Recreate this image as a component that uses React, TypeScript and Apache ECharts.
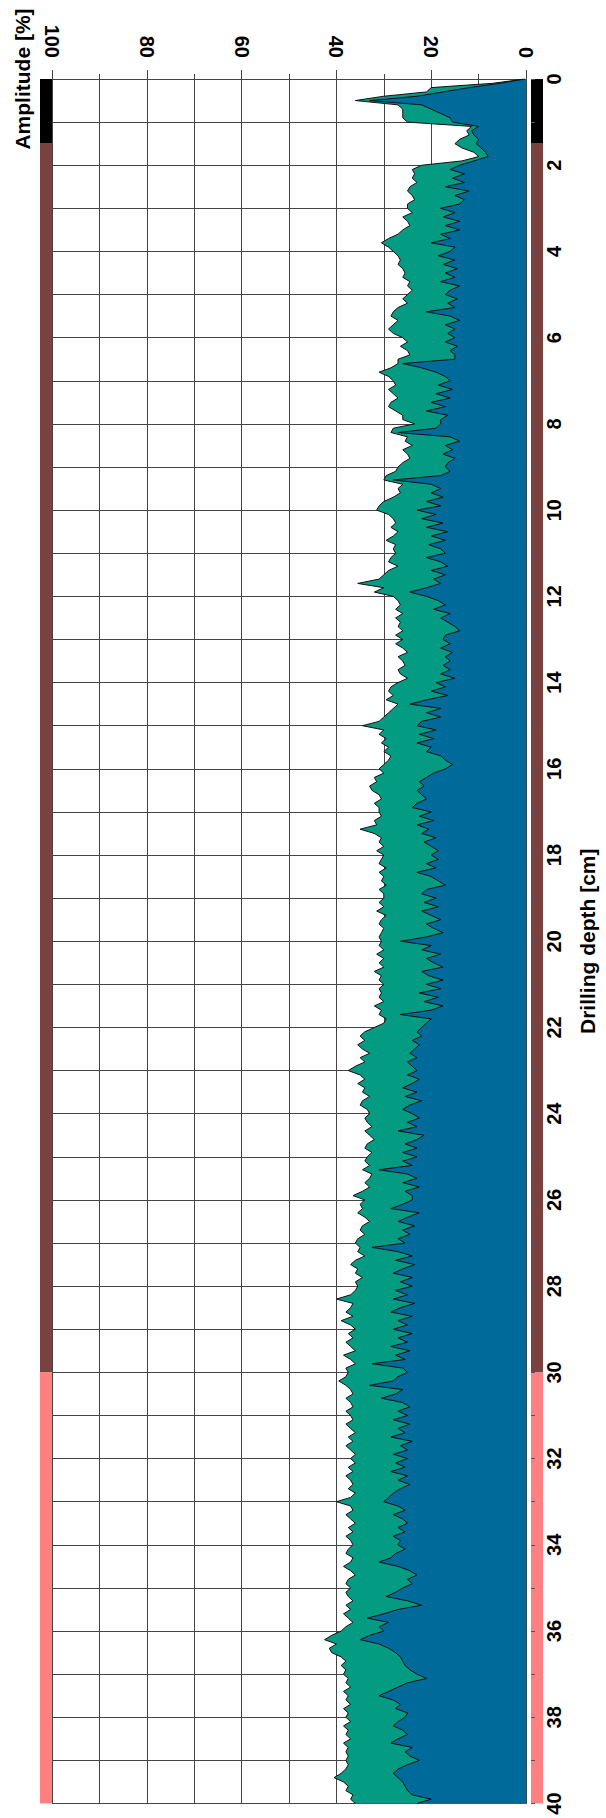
import React, { useEffect, useRef } from 'react';
import * as echarts from 'echarts';

// Depth samples (cm) every 0.1 cm from 0 to 40
const depthLabels: string[] = Array.from({ length: 401 }, (_, i) => (i / 10).toFixed(1));

// Outer curve (green area), amplitude in %
const outerAmplitude: number[] = [
  0.3, 7, 20, 21, 30, 36, 27, 26, 26, 26,
  25, 11.5, 12.5, 12, 14, 15, 13.5, 11, 10, 13.5,
  22, 24, 23.5, 24, 23, 24.5, 25, 24, 23.5, 25,
  25, 24, 26, 25, 24.5, 26, 27, 29, 30.5, 29,
  28, 27, 26.5, 27, 26, 25.5, 26, 24.5, 25, 24,
  25, 26, 25, 27, 28, 28.5, 27, 28, 29, 28,
  26, 25, 26.5, 25, 24.5, 27, 27, 28.5, 31, 29,
  28, 27.5, 29, 28, 27, 28.5, 29, 27.5, 26, 26,
  23.5, 28, 28.5, 25, 25.5, 24, 26, 25, 24.5, 26,
  27, 27.5, 29.5, 30, 26, 27, 26.5, 28, 30, 31,
  31.5, 29, 28, 27.5, 28.5, 27, 28, 29.5, 27.5, 28,
  27.5, 28.5, 29, 27, 29, 30, 31, 35.5, 30, 32,
  28, 27, 26.5, 27.5, 26, 27.5, 26.5, 27, 26, 27.5,
  26, 27.5, 26, 25, 27, 26, 25.5, 27, 26.5, 25,
  27, 28.5, 29, 28, 29.5, 27, 28, 29, 30, 31,
  34.5, 30, 31, 29.5, 30.5, 29, 30, 28.5, 29, 30,
  31, 30, 32, 31.5, 33, 32.5, 31, 30.5, 32, 31,
  31, 30.5, 32, 31.5, 35, 32, 30.5, 31, 30, 31.5,
  30, 30.5, 31, 29.5, 31, 30, 30.5, 29.5, 31, 30,
  30, 31, 30, 31.5, 29.5, 30.5, 31, 30, 30.5, 31,
  30.5, 31, 30, 31.5, 30, 31, 30, 32, 30.5, 31,
  30, 31, 30.5, 31, 30, 32, 30.5, 31, 29.5, 30,
  32, 34, 35, 34, 35.5, 34.5, 33, 35, 34, 36,
  37.5, 35, 34, 35.5, 34, 34.5, 33, 34.5, 35, 33.5,
  33, 34, 33.5, 32.5, 34, 33, 32, 33.5, 34, 32.5,
  33.5, 34, 33, 34.5, 32.5, 33, 34, 33, 34.5, 36.5,
  34, 35, 34.5, 35.5, 34, 33, 34.5, 35, 34, 35.5,
  36, 35, 35.5, 34, 36, 37, 35.5, 36, 34.5, 36,
  35.5, 36, 37, 40, 36.5, 37, 38, 36.5, 39, 37,
  36, 37.5, 36.5, 38, 37, 36, 38.5, 37, 36, 38,
  37.5, 38, 39.5, 38, 37, 36.5, 38, 37, 36.5, 38,
  37, 36.5, 38, 37, 36, 37.5, 36.5, 38, 37, 36,
  37, 36, 37.5, 36.5, 38, 37, 36.5, 37.5, 36, 37,
  40, 37, 36.5, 38, 37, 36, 37.5, 36.5, 38, 37,
  36.5, 37.5, 38, 36.5, 37, 38.5, 37, 36, 37.5, 38,
  37, 38, 37.5, 36.5, 38, 37, 38.5, 37.5, 36.5, 38,
  39, 41, 42.5, 40, 41.5, 41, 39, 38, 39, 38,
  38.5, 37.5, 38, 37, 38.5, 37.5, 38, 37, 38.5, 37.5,
  38, 37, 38.5, 37.5, 38, 37, 38.5, 37.5, 38, 37.5,
  38, 37.5, 38, 39, 40.5, 38.5, 37.5, 38, 36.5, 37, 36,
];

// Inner curve (blue area), amplitude in %
const innerAmplitude: number[] = [
  0.2, 5.5, 12, 17.5, 23, 33, 22, 20, 18, 16,
  15.5, 10, 11.5, 11, 10, 10.5, 9.5, 8.5, 8, 11,
  14, 16, 13, 15.5, 13, 17, 12, 15, 13, 14,
  18, 15, 17.5, 14, 17, 14, 18, 16, 20, 15,
  16, 18.5, 15, 17.5, 14.5, 17, 15, 18, 14, 16,
  17, 14.5, 16.5, 15, 21, 16, 14, 17, 15, 16.5,
  15, 17, 14.5, 16, 15, 15, 26, 22, 19, 17,
  16, 18.5, 15.5, 19, 16, 20, 17, 21, 16.5, 18,
  18, 19, 27, 16, 14, 17, 15.5, 17.5, 15, 16.5,
  17, 16, 18, 28, 20, 18, 20, 17.5, 21, 18,
  23, 19, 22, 17.5, 21, 16.5, 20, 17, 20.5, 18,
  17, 21, 18, 16.5, 20, 17, 19.5, 18, 21, 24.5,
  21, 18.5, 17, 19.5, 16, 18, 16.5, 15, 14, 17,
  17.5, 16, 18, 15.5, 17, 16, 17.5, 16, 18, 15,
  19, 17, 20, 16.5, 21, 24.5, 18, 21, 18, 22,
  23, 19, 22.5, 19.5, 23, 20, 21, 18, 17, 15.5,
  17, 19.5, 21, 22.5, 21.5, 23, 22, 21, 23, 24,
  20, 22.5, 19.5, 23, 20.5, 22, 19, 21.5, 20, 18.5,
  20, 18.5, 21, 19, 23, 20, 18.5, 17, 21, 22,
  19, 21.5, 18.5, 22, 20, 18, 21, 19.5, 17.5, 21,
  26.5, 20, 22, 18, 21, 19.5, 17.5, 22, 20.5, 17.5,
  21, 18, 22.5, 18.5, 21.5, 17.5, 20, 26.5, 20, 21,
  22, 23, 22, 24, 22.5, 23.5, 24.5, 23, 25, 24,
  23, 25, 22.5, 24, 26, 23, 25.5, 22, 24.5, 26,
  24, 22.5, 25, 23, 27, 21.5, 23, 25.5, 23, 26,
  23, 26, 24, 31, 25, 23, 26, 22.5, 25.5, 24,
  24, 26, 28.5, 22.5, 25, 27, 23.5, 26, 24.5, 27,
  25.5, 32.5, 27, 24, 27.5, 23.5, 26, 28, 24, 26.5,
  24, 27.5, 25, 28, 23.5, 26.5, 28.5, 24, 27, 25,
  28, 24, 27, 25, 28.5, 24.5, 27.5, 25.5, 32.5, 26,
  25, 27, 28, 33, 26, 27.5, 30.5, 26, 24.5, 27,
  25, 28, 24.5, 27, 25.5, 28.5, 24, 26.5, 25, 28,
  25, 27.5, 25.5, 28.5, 25, 27, 24.5, 26.5, 28, 29,
  30, 27, 25.5, 28, 26, 25, 27, 25.5, 28, 26.5,
  27, 25.5, 27.5, 28.5, 31, 27, 24.5, 23, 25, 24,
  26, 27.5, 29.5, 25, 22, 27, 30, 33.5, 29, 31,
  30, 33, 35, 31, 29, 27.5, 26.5, 26, 25.5, 24.5,
  23, 21, 25, 27, 29, 31, 28, 26.5, 27.5, 25,
  25.5, 27, 28, 26, 25, 27, 28.5, 24, 25.5, 24.5,
  22.5, 25, 27, 28, 27, 26, 25.5, 25, 24, 20, 23,
];

// Depth zones shown as colour bars along both sides (lengths in cm from the top)
const zoneLengths: number[] = [1.5, 28.5, 10];
const zoneColors: string[] = ['#000000', '#7a4141', '#ff8080'];

const FONT = "'Liberation Sans', Arial, Helvetica, sans-serif";
const GRID_TOP = 79;
const GRID_H = 1724.5;

export default function App() {
  const ref = useRef<HTMLDivElement>(null);

  useEffect(() => {
    if (!ref.current) return;
    const chart = echarts.init(ref.current, undefined, { renderer: 'svg' });

    const zoneSeries = (gridAxis: number, stack: string) =>
      zoneLengths.map((len, i) => ({
        type: 'bar',
        xAxisIndex: gridAxis,
        yAxisIndex: gridAxis,
        stack,
        barWidth: '100%',
        data: [len],
        itemStyle: { color: zoneColors[i] },
        silent: true,
        z: 1,
      }));

    chart.setOption({
      animation: false,
      backgroundColor: '#ffffff',
      grid: [
        { left: 52, top: GRID_TOP, width: 479, height: GRID_H },
        { left: 40, top: GRID_TOP, width: 12, height: GRID_H },
        { left: 531, top: GRID_TOP, width: 12, height: GRID_H },
      ],
      xAxis: [
        {
          gridIndex: 0,
          type: 'value',
          min: 0,
          max: 100,
          interval: 20,
          inverse: true,
          position: 'top',
          name: 'Amplitude [%]',
          nameLocation: 'end',
          nameRotate: 90,
          nameGap: 19,
          nameTextStyle: { fontSize: 21, fontWeight: 'bold', color: '#000', fontFamily: FONT },
          axisLine: { show: true, lineStyle: { color: '#444', width: 1 } },
          axisTick: { show: true, length: 9, lineStyle: { color: '#444', width: 1 } },
          minorTick: { show: true, splitNumber: 2, length: 5, lineStyle: { color: '#444', width: 1 } },
          axisLabel: {
            rotate: 90,
            margin: 21,
            fontSize: 20,
            fontWeight: 'bold',
            color: '#000',
            fontFamily: FONT,
          },
          splitLine: { show: true, lineStyle: { color: '#444', width: 1 } },
          minorSplitLine: { show: true, lineStyle: { color: '#444', width: 1 } },
        },
        { gridIndex: 1, type: 'category', data: ['zone'], show: false },
        { gridIndex: 2, type: 'category', data: ['zone'], show: false },
      ],
      yAxis: [
        {
          gridIndex: 0,
          type: 'category',
          data: depthLabels,
          boundaryGap: false,
          inverse: true,
          position: 'right',
          name: 'Drilling depth [cm]',
          nameLocation: 'middle',
          nameRotate: 90,
          nameGap: 51,
          nameTextStyle: { fontSize: 21, fontWeight: 'bold', color: '#000', fontFamily: FONT },
          axisLine: { show: true, lineStyle: { color: '#444', width: 1 } },
          axisTick: { show: false },
          axisLabel: {
            interval: (i: number) => i % 20 === 0,
            formatter: (v: string) => String(Number(v)),
            rotate: 90,
            margin: 18,
            fontSize: 20,
            fontWeight: 'bold',
            color: '#000',
            fontFamily: FONT,
          },
          splitLine: {
            show: true,
            interval: (i: number) => i % 10 === 0,
            lineStyle: { color: '#444', width: 1 },
          },
        },
        { gridIndex: 1, type: 'value', min: 0, max: 40, inverse: true, show: false },
        {
          gridIndex: 2,
          type: 'value',
          min: 0,
          max: 40,
          interval: 1,
          inverse: true,
          position: 'left',
          z: 10,
          axisLine: { show: false },
          axisTick: { show: true, inside: true, length: 4, lineStyle: { color: '#555', width: 1 } },
          axisLabel: { show: false },
          splitLine: { show: false },
        },
      ],
      series: [
        {
          name: 'Outer amplitude',
          type: 'line',
          xAxisIndex: 0,
          yAxisIndex: 0,
          data: outerAmplitude,
          symbol: 'none',
          lineStyle: { color: '#111', width: 1 },
          areaStyle: { color: '#049b83', opacity: 1 },
          z: 2,
        },
        {
          name: 'Inner amplitude',
          type: 'line',
          xAxisIndex: 0,
          yAxisIndex: 0,
          data: innerAmplitude,
          symbol: 'none',
          lineStyle: { color: '#111', width: 1 },
          areaStyle: { color: '#006a9b', opacity: 1 },
          z: 3,
        },
        ...zoneSeries(1, 'leftZones'),
        ...zoneSeries(2, 'rightZones'),
      ],
    });

    return () => chart.dispose();
  }, []);

  return (
    <div
      ref={ref}
      style={{ position: 'absolute', left: 0, top: 0, width: 606, height: 1818 }}
    />
  );
}
